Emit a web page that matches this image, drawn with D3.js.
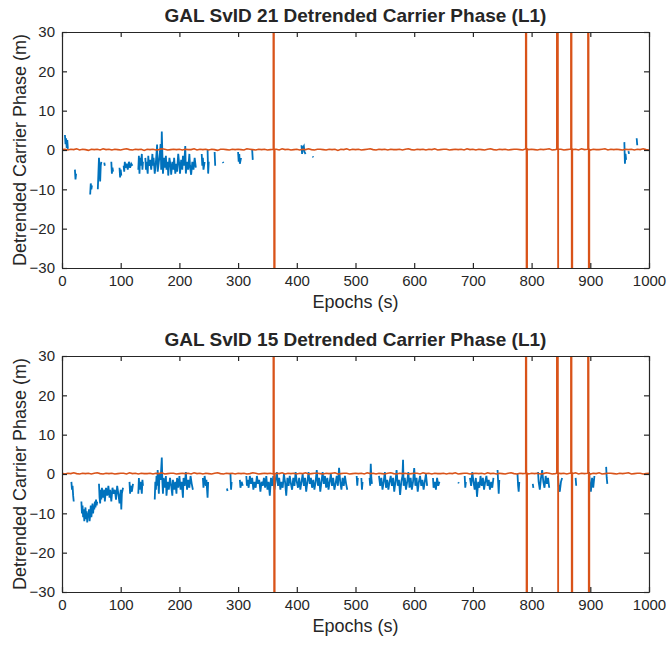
<!DOCTYPE html>
<html>
<head>
<meta charset="utf-8">
<script src="https://cdn.jsdelivr.net/npm/d3@7"></script>
<style>
  body { margin: 0; background: #fff; }
  text { font-family: "Liberation Sans", Arial, Helvetica, sans-serif; fill: #262626; }
</style>
</head>
<body>
<div id="chart"></div>
<script>
var width = 670, height = 647;

// epochs (s) on the x axis, ticks on both axes
var xTicks = [0, 100, 200, 300, 400, 500, 600, 700, 800, 900, 1000];
var yTicks = [-30, -20, -10, 0, 10, 20, 30];

// orange trace: one value every 5 s from 0 to 1000 s
var orangeStep = 5;
var orangeTop = [.1,.2,0,.2,.1,.3,0,.2,.1,-.1,.2,.1,.2,0,.3,.1,.2,0,.2,.1,
  0,.2,.3,.1,0,.2,.1,.2,-.1,.2,.1,.2,0,.1,.3,.2,0,.1,.2,.1,
  .2,0,.2,.1,.1,.3,0,.2,.1,.2,0,.2,.1,-.1,.2,.2,.1,0,.2,.1,
  .2,.1,0,.3,.2,.1,0,.2,.1,.2,0,.1,.2,.2,0,.3,.1,.2,0,.1,
  .2,0,.2,.1,.3,.1,0,.2,.2,.1,0,.2,.1,.2,-.1,.2,.1,.3,0,.2,
  .1,.2,0,.1,.2,.3,.1,0,.2,.1,.2,0,.2,.1,.1,.2,0,.2,.3,.1,
  0,.2,.1,.2,0,.2,.1,.3,0,.1,.2,.2,0,.1,.2,.1,.2,0,.3,.1,
  .2,0,.2,.1,0,.2,.3,.1,0,.2,.1,.2,0,.1,.2,.2,.1,0,.3,.1,
  .2,.1,0,.2,.1,.2,.3,0,.1,.2,.2,0,.1,.2,.1,.2,0,.3,.1,.2,
  0,.2,.1,.1,.2,.3,0,.2,.1,.2,.1,0,.2,.1,.2,0,.2,.1,.3,.1,0];
var orangeBottom = [.2,0,.2,.1,.3,.1,0,.2,.1,.2,0,.2,.3,.1,0,.2,.1,.2,0,.1,
  .2,.2,0,.3,.1,.2,0,.2,.1,.1,.2,0,.2,.1,.3,0,.1,.2,.2,0,
  .1,.2,.1,.2,0,.3,.1,.2,0,.2,.1,0,.2,.3,.1,0,.2,.1,.2,0,
  .2,.1,.2,0,.1,.3,.2,0,.1,.2,.1,.2,0,.2,.1,.3,0,.2,.1,.2,
  0,.2,.1,.3,0,.1,.2,.2,.1,0,.2,.1,.2,.3,0,.1,.2,.2,0,.1,
  .2,.1,.2,0,.3,.1,.2,0,.2,.1,0,.2,.3,.1,0,.2,.1,.2,0,.1,
  .2,.2,0,.3,.1,.2,0,.2,.1,.1,.2,0,.2,.1,.3,0,.1,.2,.2,0,
  .1,.2,.1,.2,0,.3,.1,.2,0,.2,.1,0,.2,.3,.1,0,.2,.1,.2,0,
  .2,.1,.2,0,.1,.3,.2,0,.1,.2,.1,.2,0,.2,.1,.3,0,.2,.1,.2,
  0,.2,.1,.3,0,.1,.2,.2,.1,0,.2,.1,.2,.3,0,.1,.2,.2,0,.1,.2];

// cycle-slip jumps in the orange trace: [epoch, high value, low value], far outside the y range
var slipsTop = [[360, 800, -800], [790, 800, -800], [843, 800, -800], [867, 800, -800], [896, 800, -800]];
var slipsBottom = [[360, 800, -800], [790, 800, -800], [843, 800, -800], [867, 800, -800], [896, 800, -800]];

// blue trace, [epoch, value]; null = gap in the data
var blueTop = [[5,3.8],[6,1.5],[7,3],[8,0.5],[9,2.5],[10,0.3],null,
  [22,-5],[23,-7.5],[24,-6],null,
  [48,-11.3],[49,-8.5],[50,-10],[51,-9],null,
  [61,-10],[62,-6],[63,-2],[64,-5],[65,-8],[66,-4],[67,-3],null,
  [72,-3.2],[73,-4],null,
  [84,-3],[85,-6],[86,-4.5],[87,-5.5],null,
  [98,-4.5],[99,-7],[100,-5],[101,-6.5],null,
  [105,-4],[106,-5.5],[107,-3],[108,-4.5],[110,-3.5],[112,-5],[114,-3],[116,-4.5],[118,-3.5],[120,-4],null,
  [130,-5],[131,-1.5],[132,-6],[133,-2],[134,-4],[136,-1],[137,-5],[138,-3],null,
  [142,-2],[143,-5],[144,-3],[146,-6],[147,-1.5],[148,-4],[150,-2.5],[152,-5],[154,-1],[155,-4],
  [156,-2],[158,-6],[160,-3],[162,1.4],[163,-5.5],[165,-3],[167,-0.5],[168,1.5],[169,-5],[170,4.7],
  [171,-1],[172,-6],[174,-2],[175,-4.5],[177,-1.5],[178,-5],[180,-3],[181,-6.5],[183,-2],[185,-4],
  [186,-6.3],[188,-3],[190,-5],[191,-2],[193,-6],[195,-3.5],[196,-5.5],[198,-1],[200,-4],[201,-6],
  [203,-2.5],[205,-5],[206,-1.5],[208,-4],[210,1],[211,-6],[213,-3],[215,-5],[217,-1],[218,-4],
  [220,-6.3],[222,-3],[224,-5],[226,-2],[228,-4.5],null,
  [238,-1],[239,-4],[240,-2],[241,-5],[243,-3],null,
  [248,0],[249,-6],[250,-3],null,
  [260,-0.5],[261,-4],null,
  [274,-3],[275,-3.3],null,
  [300,-0.5],[301,-3],[302,-1],[303,-3.5],[305,-2],null,
  [324,0],[325,-2.5],null,
  [408,1.2],[409,-1],[410,0.5],[412,1],[413,-0.5],[415,-1],null,
  [427,-1.6],[428,-1.9],null,
  [958,2],[959,-3.5],[960,-1],[961,-2.5],null,
  [965,-0.3],[966,-1],null,
  [979,3],[980,1.2]];

var blueBottom = [[16,-2],[17,-4],[18,-3],[19,-5.5],[20,-7],null,
  [33,-7],[34,-10],[35,-8],[36,-11],[37,-9],[38,-12],[39,-10],[40,-8.5],[41,-11.5],[42,-9.5],
  [43,-12.3],[44,-10],[45,-11],[46,-9],[47,-12],[48,-10.5],[49,-8],[50,-11],[51,-9.5],[52,-7.5],
  [53,-10],[54,-8],[55,-9],[56,-7],[57,-8.5],[58,-6.5],[59,-8],[60,-7],null,
  [63,-2.5],[64,-6],[65,-7.5],[66,-4],[67,-6.5],[68,-3.5],[70,-6],[72,-4],[73,-7],[75,-3.5],
  [77,-5.5],[79,-3],[81,-6],[82,-4],[84,-7],[86,-3.5],[88,-5],[90,-4],[92,-6.5],[94,-3],
  [96,-5],[98,-7.5],[100,-4],[101,-9],[102,-5],[104,-3.5],null,
  [115,-2],[116,-5],[117,-3],[119,-4.5],[121,-2.5],null,
  [130,-5],[131,-1],[132,-4],[134,-2],[136,-5],[137,-1.5],[138,-3],null,
  [158,-6.5],[159,-2],[160,-4],[161,-0.5],[162,-3],[163,1],[164,-2],[165,-5],[166,0],[168,-1.5],
  [170,4.2],[171,-2],[172,-5],[173,-1],[175,-3.5],[177,-0.5],[178,-5.5],[180,-2],[182,-4],[184,-1],
  [186,-3],[188,-5.5],[189,-1.5],[191,-4],[193,-2],[195,-5],[196,-1],[198,-3.5],[200,-0.5],[202,-4],
  [204,-2],[206,-6],[207,-1],[209,-3],[211,0.5],[213,-4],[215,-1.5],[217,-3.5],[219,-0.5],[221,-2.5],[223,-4],null,
  [240,-1],[241,-3.5],[243,-0.5],[245,-3],[246,-1.5],[248,-6],[249,-2],null,
  [281,-3.7],[282,-4.3],null,
  [287,0],[288,-4],[289,-2],null,
  [303,-1.5],[304,-3.5],[306,-2],[308,-3],null,
  [314,-0.5],[315,-3],[316,-1.5],[318,-3.5],[320,-0.5],[322,-2.5],[324,-1],[326,-4],[328,-2],[330,-3.5],
  [332,-0.5],[334,-2.5],[336,-1.5],[338,-4.5],[340,-2],[342,-3],[344,-1],[346,-3.5],[348,-0.5],[350,-4],
  [352,-2],[354,-5.5],[356,-1],[358,-3],[360,-0.5],[362,-4],[364,-1.5],[366,0.5],[368,-3],[370,-1],
  [372,-4],[374,-2],[376,-3.5],[378,0],[380,-2],[382,-5.5],[384,-1],[386,-3],[388,-0.5],[390,-2.5],
  [392,-4],[394,-1],[396,-3],[398,0.5],[400,-2],[402,-3.5],[404,-1],[406,-4],[408,-2],[410,0],
  [412,-3],[414,-1],[416,-4.5],[418,-2],[420,0.5],[422,-2.5],[424,-1],[426,-3.5],[428,-1.5],[430,-4],
  [432,-2],[434,1],[436,-3],[438,-1],[440,-4.5],[442,-2],[444,0.5],[446,-2.5],[448,-0.5],[450,-3.5],
  [452,-1],[454,-4],[456,-2],[458,0],[460,-3],[462,-1],[464,-4],[466,-2.5],[468,-0.5],[470,-3],
  [472,1.6],[474,-2],[476,-4],[478,-1],[480,-3],[482,-0.5],[484,-2.5],[486,-4],null,
  [502,-0.5],[503,-3],[504,-1],null,
  [510,-1],[511,-4],[512,-2],null,
  [524,-1],[525,-3],[526,2.6],[527,-1],[528,-2.5],null,
  [540,-0.5],[542,-3],[544,-1],[546,-4],[548,-2],[550,0.5],[552,-3.5],[554,-1.5],[556,-4],[558,-2],
  [560,-0.5],[562,-3],[564,-1],[566,-4.5],[568,-2],[570,1],[572,-3],[574,-1.5],[576,-5.3],[578,-2],
  [580,-0.5],[581,3.6],[582,-3],[584,-1],[586,-4],[588,-2],[590,0.5],[592,-3.5],[594,-1],[596,-4],
  [598,-2],[600,1.5],[602,-3],[604,-1],[606,-4.5],[608,-2],[610,-0.5],[612,-3],[614,-1.5],[616,-4],
  [618,-2],[620,0],[622,-3],null,
  [632,-1],[633,-3.5],[635,-2],[637,-4],[639,-1],[641,-3],[643,-2],null,
  [675,-2.1],[676,-2.4],null,
  [686,-0.5],[687,-3.5],[688,-2],null,
  [695,-1],[697,-3],[699,0.5],[701,-2],[703,-4],[705,-1],[707,-5.8],[709,-2],[711,-3.5],[713,-0.5],
  [715,-3],[717,-1],[719,-4],[721,-2],[723,-0.5],[725,-3],[727,-1.5],[729,-4],[731,-2],[733,-3.5],[735,-1],null,
  [742,1],[743,-2],[744,-5],[745,-1.5],null,
  [776,0],[777,-3],[778,-4.5],[779,-2],null,
  [802,-2.5],[803,-3.5],null,
  [811,0.5],[812,-2],[814,-4],[816,-1],[818,1],[820,-2],[822,-3.5],[824,-0.5],[826,-2.5],[828,-1],[830,-3.5],null,
  [845,-0.5],[846,-3],[848,-4.5],[850,-2],[852,-1],null,
  [875,-1],[876,-3],null,
  [898,0.5],[899,-2],[901,-4.5],[903,-1],[905,-3.5],[907,-0.5],null,
  [927,1.8],[928,-1],[929,-2.5]];

var panels = [
  {title: "GAL SvID 21 Detrended Carrier Phase (L1)", top: 32, blue: blueTop, orange: orangeTop, slips: slipsTop},
  {title: "GAL SvID 15 Detrended Carrier Phase (L1)", top: 356, blue: blueBottom, orange: orangeBottom, slips: slipsBottom}
];

var left = 62, right = 649, plotH = 236;

var svg = d3.select("#chart").append("svg")
    .attr("width", width)
    .attr("height", height);

var x = d3.scaleLinear().domain([0, 1000]).range([left, right]);

// orange samples plus the slip jumps, which leave and rejoin the trace right at the slip epoch
function orangeSeries(vals, slips) {
  var pts = vals.map(function(v, i) { return [i * orangeStep, v]; });
  slips.forEach(function(s) {
    var base = vals[Math.round(s[0] / orangeStep)];
    pts.push([s[0] - 0.05, base], [s[0], s[1]], [s[0] + 2.4, s[2]], [s[0] + 2.45, base]);
  });
  pts.sort(function(a, b) { return a[0] - b[0]; });
  return pts;
}

panels.forEach(function(p, k) {
  var y = d3.scaleLinear().domain([-30, 30]).range([p.top + plotH, p.top]);
  var g = svg.append("g");

  g.append("clipPath").attr("id", "clip" + k)
    .append("rect")
      .attr("x", left).attr("y", p.top)
      .attr("width", right - left).attr("height", plotH);

  var line = d3.line()
      .defined(function(d) { return d != null; })
      .x(function(d) { return x(d[0]); })
      .y(function(d) { return y(d[1]); });

  g.append("path")
      .datum(p.blue)
      .attr("clip-path", "url(#clip" + k + ")")
      .attr("d", line)
      .attr("fill", "none")
      .attr("stroke", "#0072BD")
      .attr("stroke-width", 1.8);

  g.append("path")
      .datum(orangeSeries(p.orange, p.slips))
      .attr("clip-path", "url(#clip" + k + ")")
      .attr("d", line)
      .attr("fill", "none")
      .attr("stroke", "#D95319")
      .attr("stroke-width", 1.6);

  // axes, MATLAB style ticks pointing inwards on all four sides
  g.append("g")
      .attr("transform", "translate(0," + (p.top + plotH) + ")")
      .call(d3.axisBottom(x).tickValues(xTicks).tickFormat(d3.format("d"))
        .tickSizeInner(-5).tickSizeOuter(0).tickPadding(7));
  g.append("g")
      .attr("transform", "translate(0," + p.top + ")")
      .call(d3.axisTop(x).tickValues(xTicks).tickSizeInner(-5).tickSizeOuter(0).tickFormat(""));
  g.append("g")
      .attr("transform", "translate(" + left + ",0)")
      .call(d3.axisLeft(y).tickValues(yTicks).tickSizeInner(-5).tickSizeOuter(0).tickPadding(7));
  g.append("g")
      .attr("transform", "translate(" + right + ",0)")
      .call(d3.axisRight(y).tickValues(yTicks).tickSizeInner(-5).tickSizeOuter(0).tickFormat(""));

  g.selectAll(".domain").attr("stroke", "#262626").attr("stroke-width", 1.2);
  g.selectAll(".tick line").attr("stroke", "#262626").attr("stroke-width", 1.2);
  g.selectAll(".tick text")
      .style("font-size", "15px")
      .style("font-family", "'Liberation Sans', Arial, sans-serif")
      .attr("fill", "#262626");

  g.append("text")
      .attr("x", (left + right) / 2)
      .attr("y", p.top - 10)
      .attr("text-anchor", "middle")
      .style("font-size", "19px")
      .style("font-weight", "bold")
      .text(p.title);

  g.append("text")
      .attr("x", (left + right) / 2)
      .attr("y", p.top + plotH + 40)
      .attr("text-anchor", "middle")
      .style("font-size", "18px")
      .text("Epochs (s)");

  g.append("text")
      .attr("transform", "translate(26," + (p.top + plotH / 2) + ") rotate(-90)")
      .attr("text-anchor", "middle")
      .style("font-size", "18px")
      .text("Detrended Carrier Phase (m)");
});
</script>
</body>
</html>
